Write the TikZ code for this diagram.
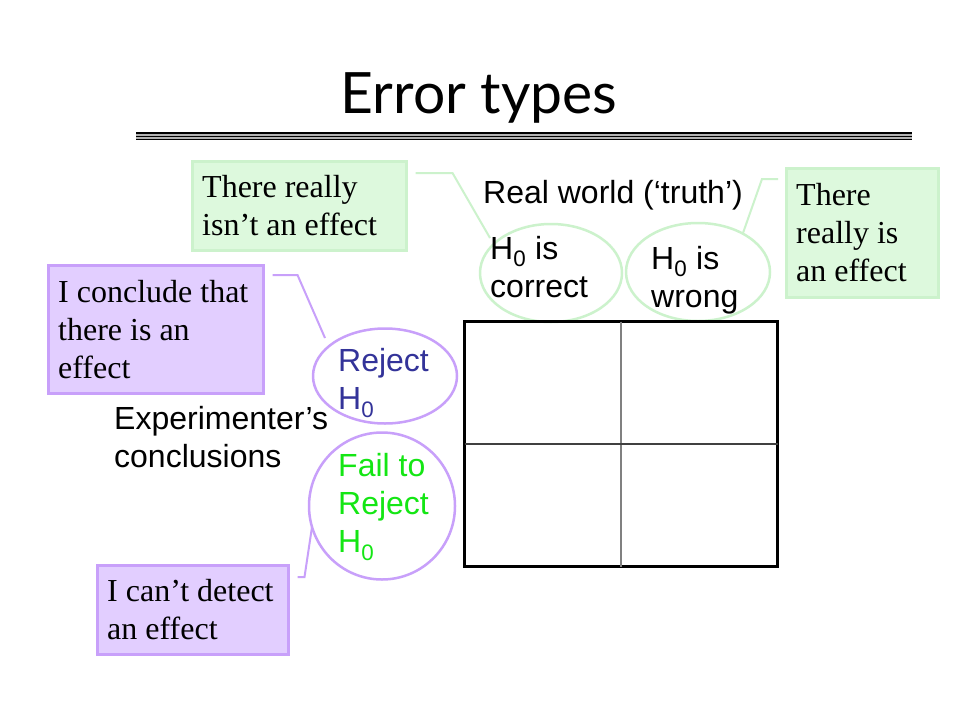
\documentclass[tikz,border=0pt]{standalone}
\usepackage{fontspec}
\setmainfont{Liberation Serif}
\newfontfamily\arialfont{Liberation Sans}
\newfontfamily\titlefont{Lato}
\usepackage{tikz}
\usetikzlibrary{shapes.geometric}
\usetikzlibrary{calc}
\definecolor{notegreen}{RGB}{221,249,221}
\definecolor{linegreen}{RGB}{204,242,204}
\definecolor{notepurple}{RGB}{226,206,255}
\definecolor{linepurple}{RGB}{200,160,250}
\definecolor{rejectblue}{RGB}{51,51,153}
\definecolor{failgreen}{RGB}{20,230,20}
\newcommand{\gnote}[5]{\node(#1)[gnote, minimum width=#2, minimum height=#3] at #4 {};
  \node(#1txt)[notetext] at ($(#1.west)+(11,0)$) {#5}}
\newcommand{\pnote}[5]{\node(#1)[pnote, minimum width=#2, minimum height=#3] at #4 {};
  \node(#1txt)[notetext] at ($(#1.west)+(11,0)$) {#5}}
\newcommand{\hyp}[5]{\node(#1)[hyp, draw=#2, minimum width=#3, minimum height=#4] at #5 {}}

\begin{document}
\begin{tikzpicture}[
        x=1pt, y=-1pt,
        every node/.style={inner sep=0pt},
        sans/.style={font=\arialfont\fontsize{32}{38}\selectfont},
        note/.style={rectangle, anchor=north west, line width=2.5pt},
        notetext/.style={anchor=west, align=left, font=\fontsize{32}{38}\selectfont},
        gnote/.style={note, draw=linegreen, fill=notegreen},
        pnote/.style={note, draw=linepurple, fill=notepurple},
        hyp/.style={ellipse, line width=2.5pt},
        gline/.style={draw=linegreen, line width=2pt},
        pline/.style={draw=linepurple, line width=2pt}
      ]
      \path[fill=white] (0,0) rectangle (960,720);

      % title and rule
      \node(title)[font=\titlefont\fontsize{57}{62}\selectfont, anchor=base] at (479,113) {Error types};
      \fill[gray!60] (136,132) rectangle (912,140);
      \draw[line width=2pt] (136,133) -- (912,133);
      \draw[line width=1pt] (136,136.5) -- (912,136.5);
      \draw[line width=1.5pt] (136,139.3) -- (912,139.3);

      % real world
      \node(world)[sans, anchor=base west] at (483,203) {Real world (‘truth’)};
      \hyp{correct}{linegreen}{142}{98}{(551,273)};
      \hyp{wrong}{linegreen}{144}{98}{(698,272)};
      \node(correcttxt)[sans, align=left, anchor=west] at (490,267) {H\textsubscript{0} is\\correct};
      \node(wrongtxt)[sans, align=left, anchor=west] at (651,280) {H\textsubscript{0} is\\wrong};

      % experimenter
      \node(exper)[sans, align=left, anchor=west] at (114,437) {Experimenter’s\\conclusions};
      \hyp{reject}{linepurple}{144}{95}{(385,376)};
      \hyp{fail}{linepurple}{146}{147}{(382,506)};
      \node(rejecttxt)[sans, align=left, anchor=west, text=rejectblue] at (338,383) {Reject\\H\textsubscript{0}};
      \node(failtxt)[sans, align=left, anchor=west, text=failgreen] at (338,507) {Fail to\\Reject\\H\textsubscript{0}};

      % table
      \node(grid)[draw, line width=3pt, minimum width=313, minimum height=245, anchor=north west] at (463,320) {};
      \draw[gray, line width=1.5pt, shorten <=1.5pt, shorten >=1.5pt] (grid.north) -- (grid.south);
      \draw[black!75, line width=1.2pt, shorten <=1.5pt, shorten >=1.5pt] (grid.west) -- (grid.east);

      % callouts
      \gnote{noeffect}{214}{89}{(191,160)}{There really\\isn’t an effect};
      \gnote{effect}{152}{129}{(785,167)}{There\\really is\\an effect};
      \pnote{conclude}{215}{128}{(47,264)}{I conclude that\\there is an\\effect};
      \pnote{cantdetect}{191}{89}{(96,564)}{I can’t detect\\an effect};

      \draw[gline] ($(noeffect.north east)+(8,13)$) -- ++(37,0) -- ($(correct.center)+(-61,-35)$);
      \draw[gline] ($(effect.north west)+(-7,12)$) -- ++(-16,0) -- ($(wrong.center)+(45,-39)$);
      \draw[pline] ($(conclude.north east)+(8,11)$) -- ++(25,0) -- ($(reject.center)+(-60,-38)$);
      \draw[pline] ($(cantdetect.north east)+(8,13)$) -- ++(7,0) -- ($(fail.center)+(-70,21)$);
    \end{tikzpicture}
\end{document}
